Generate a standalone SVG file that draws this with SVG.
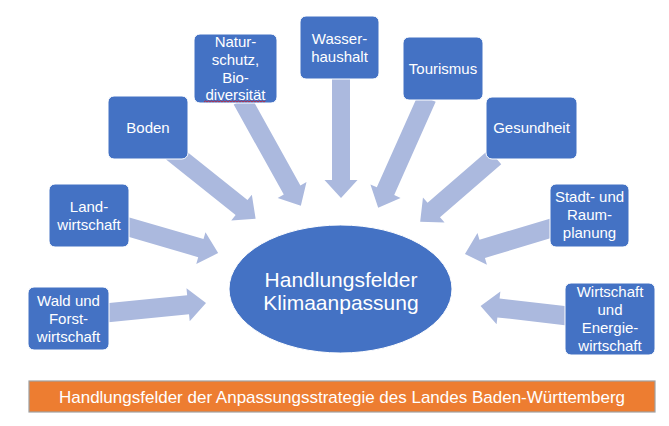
<svg xmlns="http://www.w3.org/2000/svg" width="669" height="426" viewBox="0 0 669 426">
<style>
.arr{fill:#ABB9DE;}
.box{fill:#4472C4;stroke:#FFFFFF;stroke-width:1;}
.t{font-family:"Liberation Sans",Arial,sans-serif;font-size:15px;fill:#FFFFFF;text-anchor:middle;}
.big{font-family:"Liberation Sans",Arial,sans-serif;font-size:21px;fill:#FFFFFF;text-anchor:middle;}
.ban{font-family:"Liberation Sans",Arial,sans-serif;font-size:17px;fill:#FFFFFF;text-anchor:middle;}
</style>
<rect width="669" height="426" fill="#FFFFFF"/>
<g id="connectors">
<path class="arr" transform="translate(105,313) rotate(-5.65)" d="M0,-9.5 H83.5 V-16.5 L101.5,0 L83.5,16.5 V9.5 H0 Z"/>
<path class="arr" transform="translate(125,226) rotate(16.2)" d="M0,-9.5 H79 V-16.5 L97,0 L79,16.5 V9.5 H0 Z"/>
<path class="arr" transform="translate(172,152) rotate(38.6)" d="M0,-9.5 H89 V-16.5 L107,0 L89,16.5 V9.5 H0 Z"/>
<path class="arr" transform="translate(242,100) rotate(60.9)" d="M0,-9.5 H103 V-16.5 L121,0 L103,16.5 V9.5 H0 Z"/>
<path class="arr" transform="translate(341,79) rotate(90)" d="M0,-9 H101 V-16.5 L119,0 L101,16.5 V9 H0 Z"/>
<path class="arr" transform="translate(427,98) rotate(114)" d="M0,-9.5 H102 V-16.5 L120,0 L102,16.5 V9.5 H0 Z"/>
<path class="arr" transform="translate(495,157) rotate(139.1)" d="M0,-9.5 H81 V-16.5 L99,0 L81,16.5 V9.5 H0 Z"/>
<path class="arr" transform="translate(555,227) rotate(163.3)" d="M0,-9.5 H76 V-16.5 L94,0 L76,16.5 V9.5 H0 Z"/>
<path class="arr" transform="translate(568,316) rotate(186.6)" d="M0,-9.5 H70 V-16.5 L88,0 L70,16.5 V9.5 H0 Z"/>
</g>
<g id="center">
<ellipse cx="340.5" cy="289" rx="111.5" ry="64" fill="#4472C4" stroke="#FFFFFF" stroke-width="1"/>
<text class="big" x="341" y="287">Handlungsfelder</text>
<text class="big" x="341" y="310">Klimaanpassung</text>
</g>
<g id="wald">
<rect class="box" x="28" y="287" width="81" height="63" rx="6"/>
<text class="t" x="68.5" y="305.5">Wald und</text>
<text class="t" x="68.5" y="323.5">Forst-</text>
<text class="t" x="68.5" y="341.5">wirtschaft</text>
</g>
<g id="landwirtschaft">
<rect class="box" x="49" y="184" width="80" height="63" rx="6"/>
<text class="t" x="89" y="211.5">Land-</text>
<text class="t" x="89" y="229.5">wirtschaft</text>
</g>
<g id="boden">
<rect class="box" x="108" y="96" width="80" height="63" rx="6"/>
<text class="t" x="148" y="133">Boden</text>
</g>
<g id="naturschutz">
<rect class="box" x="194" y="34" width="83" height="69" rx="6"/>
<text class="t" x="235.5" y="46.5">Natur-</text>
<text class="t" x="235.5" y="64.5">schutz,</text>
<text class="t" x="235.5" y="82.5">Bio-</text>
<text class="t" x="235.5" y="100">diversität</text>
<path d="M204,102 l1.5,-1.2 l1.5,1.2 l1.5,-1.2 l1.5,1.2 l1.5,-1.2 l1.5,1.2 l1.5,-1.2 l1.5,1.2 l1.5,-1.2 l1.5,1.2 l1.5,-1.2 l1.5,1.2 l1.5,-1.2 l1.5,1.2 l1.5,-1.2 l1.5,1.2 l1.5,-1.2 l1.5,1.2 l1.5,-1.2 l1.5,1.2 l1.5,-1.2 l1.5,1.2 l1.5,-1.2 l1.5,1.2 l1.5,-1.2 l1.5,1.2 l1.5,-1.2 l1.5,1.2 l1.5,-1.2 l1.5,1.2 l1.5,-1.2 l1.5,1.2 l1.5,-1.2 l1.5,1.2 l1.5,-1.2 l1.5,1.2 l1.5,-1.2 l1.5,1.2 l1.5,-1.2 l1.5,1.2 l1.5,-1.2" fill="none" stroke="#D01C2A" stroke-width="0.8"/>
</g>
<g id="wasserhaushalt">
<rect class="box" x="300" y="16" width="79" height="63" rx="6"/>
<text class="t" x="339.5" y="43.5">Wasser-</text>
<text class="t" x="339.5" y="61.5">haushalt</text>
</g>
<g id="tourismus">
<rect class="box" x="403" y="37" width="80" height="63" rx="6"/>
<text class="t" x="443" y="73.5">Tourismus</text>
</g>
<g id="gesundheit">
<rect class="box" x="486" y="97" width="91" height="62" rx="6"/>
<text class="t" x="531.5" y="133">Gesundheit</text>
</g>
<g id="stadt">
<rect class="box" x="550" y="184" width="79" height="63" rx="6"/>
<text class="t" x="589.5" y="202">Stadt- und</text>
<text class="t" x="589.5" y="220">Raum-</text>
<text class="t" x="589.5" y="238">planung</text>
</g>
<g id="wirtschaft">
<rect class="box" x="565" y="283" width="90" height="72" rx="6"/>
<text class="t" x="610" y="297">Wirtschaft</text>
<text class="t" x="610" y="315">und</text>
<text class="t" x="610" y="333">Energie-</text>
<text class="t" x="610" y="351">wirtschaft</text>
</g>
<g id="banner">
<rect x="29" y="381" width="626" height="31" fill="#ED7D31" stroke="#A0A0A0" stroke-width="1.2"/>
<text class="ban" x="342" y="403">Handlungsfelder der Anpassungsstrategie des Landes Baden-Württemberg</text>
</g>
</svg>
